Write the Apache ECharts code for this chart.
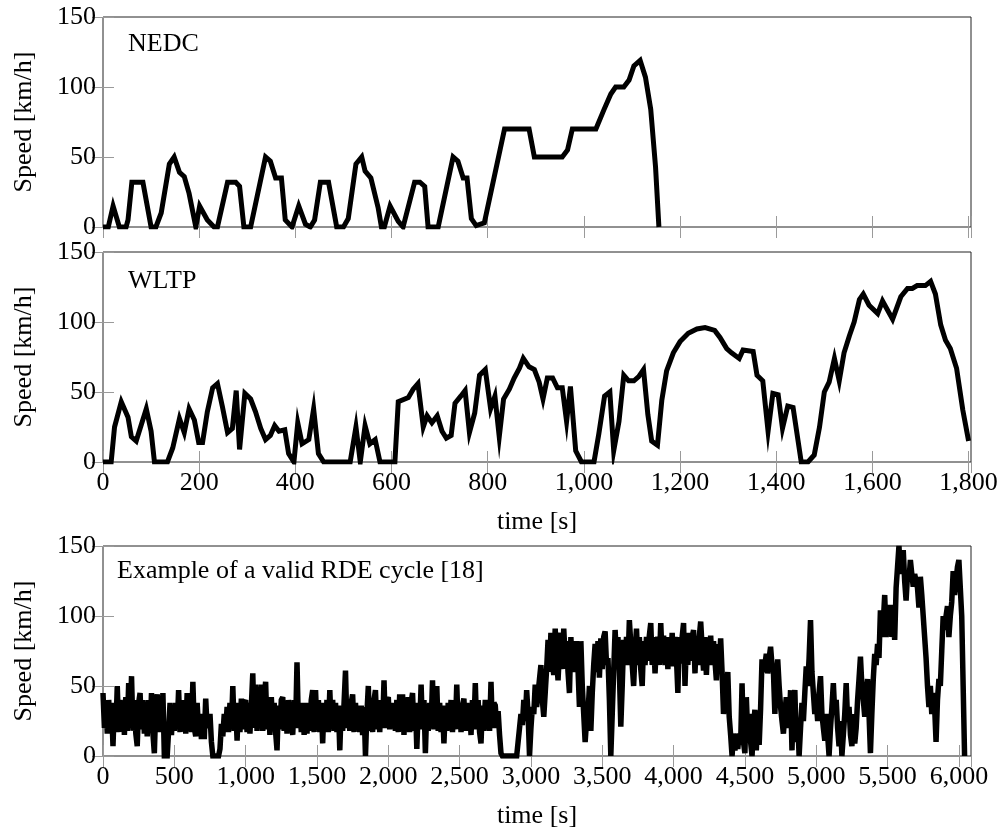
<!DOCTYPE html>
<html><head><meta charset="utf-8">
<script src="https://cdn.jsdelivr.net/npm/echarts@6/dist/echarts.min.js"></script>
<style>html,body{margin:0;padding:0;background:#fff}#c{width:1003px;height:832px}</style>
</head><body><div id="c"></div>
<script>
// ---- data ----
const panelTitles = ['NEDC', 'WLTP', 'Example of a valid RDE cycle [18]'];
const yTicks = [0, 50, 100, 150];
const cycleAxisMax = 1805, cycleAxisStep = 200;
const rdeAxisMax = 6085, rdeAxisStep = 500;

// NEDC: [time s, speed km/h]
const nedc = [[0,0],[11,0],[21,15],[34,0],[48,0],[52,5],[60,32],[83,32],[100,0],[110,0],[121,10],[138,45],[148,50],[159,39],[169,36],[179,24],[193,0],
[201,15],[217,5],[231,0],[238,0],[259,32],[276,32],[284,29],[293,0],[307,0],[338,50],[348,47],[359,35],[371,35],[379,5],[393,0],
[407,15],[421,2],[431,0],[440,5],[452,32],[469,32],[486,0],[500,0],[510,6],[526,45],[538,50],[545,40],[557,35],[572,14],[579,0],
[585,0],[597,15],[614,4],[624,0],[628,0],[648,32],[659,32],[669,29],[676,0],[697,0],[728,50],[738,47],[749,35],[757,35],[766,6],[776,1],[793,3],
[835,70],[886,70],[897,50],[955,50],[966,55],[976,70],[1025,70],[1042,84],[1056,95],[1066,100],[1083,100],[1094,105],[1104,115],[1117,119],[1128,107],[1139,84],[1149,43],[1156,0]];

// WLTP: [time s, speed km/h]
const wltp = [[0,0],[17,0],[24,25],[38,43],[52,32],[59,18],[69,15],[90,38],[100,22],[107,0],[134,0],[145,10],[159,31],[169,21],[179,38],[190,30],[199,14],[207,14],[217,36],[228,53],[238,56],[248,40],[259,21],[269,24],[277,51],[284,9],[295,49],[307,45],[317,36],[328,24],[338,16],[348,19],[357,26],[366,22],[378,23],[386,6],[397,0],[405,28],[414,13],[428,16],[438,38],[448,6],[459,0],[514,0],[526,25],[535,0],[545,26],[555,13],[566,16],[576,0],[607,0],[614,43],[635,46],[645,52],[655,56],[666,25],[674,33],[684,28],[695,33],[705,22],[714,17],[724,19],[732,42],[744,47],[753,51],[762,21],[773,35],[783,62],[795,66],[806,38],[815,47],[824,18],[833,45],[845,52],[855,60],[866,67],[874,74],[886,68],[897,66],[907,57],[915,45],[924,60],[935,60],[945,53],[955,53],[964,29],[972,54],[983,8],[995,0],[1021,0],[1031,20],[1043,47],[1054,50],[1062,8],[1073,29],[1083,62],[1093,58],[1104,58],[1114,61],[1124,66],[1133,34],[1141,15],[1153,12],[1162,44],[1172,65],[1186,78],[1200,86],[1217,92],[1235,95],[1252,96],[1272,94],[1283,89],[1297,81],[1307,78],[1323,74],[1331,80],[1352,79],[1360,62],[1372,58],[1383,22],[1393,49],[1404,48],[1413,24],[1424,40],[1435,39],[1452,0],[1466,0],[1479,5],[1490,25],[1500,50],[1510,57],[1521,74],[1531,58],[1541,78],[1552,90],[1562,100],[1573,116],[1581,120],[1593,112],[1611,106],[1621,115],[1642,102],[1659,118],[1673,124],[1683,124],[1693,126],[1710,126],[1721,129],[1731,120],[1742,98],[1752,87],[1762,81],[1775,67],[1788,37],[1800,15]];

// RDE: speed samples every rdeStep seconds from rdeStart (one row = 100 s)
const rdeStart = 0, rdeStep = 10;
const rdeSpeed = [
45,20,38,16,40,18,36,7,38,18,
50,17,40,20,38,15,42,18,52,20,
57,18,40,16,7,38,45,19,40,16,
38,14,40,18,45,16,2,36,44,17,
40,18,45,0,0,0,18,38,15,36,
18,38,20,47,17,40,19,38,16,45,
20,40,17,53,20,14,38,18,30,12,
28,12,41,20,19,30,10,0,0,0,
0,0,5,23,14,30,18,35,17,38,
20,50,18,36,11,38,17,41,19,38,
40,17,38,16,36,59,20,51,18,40,
20,51,18,40,53,19,40,15,42,20,
38,17,4,36,19,40,42,18,38,16,
40,18,37,15,40,20,67,22,38,17,
38,15,38,16,36,18,40,47,17,47,
19,40,17,38,9,38,19,40,17,47,
20,40,18,38,17,36,4,34,18,38,
61,20,40,18,38,44,17,38,19,36,
17,36,15,35,0,30,50,18,40,17,
40,47,19,38,17,40,20,54,20,40,
42,19,38,20,37,18,40,17,44,19,
44,15,40,18,42,17,38,45,18,38,
5,34,20,51,19,40,2,34,18,38,
20,54,19,40,50,18,38,17,36,9,
34,18,38,20,40,17,37,19,51,20,
38,17,36,41,18,38,19,37,15,40,
20,52,19,40,17,9,36,18,40,19,
38,18,53,20,38,36,20,32,15,2,
0,0,0,0,0,0,0,0,0,0,
0,10,20,30,22,40,25,47,30,0,
20,35,30,51,35,45,55,65,40,28,
45,62,83,60,88,66,58,91,70,54,
75,88,62,91,70,82,60,45,85,62,
80,60,82,62,35,82,50,30,10,25,
30,50,18,45,65,80,60,82,56,84,
62,85,89,65,70,40,0,30,60,90,
70,85,60,21,50,83,65,85,65,97,
80,65,50,75,91,65,85,62,50,82,
65,85,68,86,95,65,85,59,80,85,
65,95,70,86,65,85,62,85,66,88,
64,85,70,45,85,66,85,95,50,82,
65,88,68,85,90,59,85,65,85,96,
78,61,85,58,82,68,86,65,82,83,
54,80,65,84,60,30,50,45,60,28,
15,0,16,4,14,5,16,8,52,10,
2,42,15,30,10,0,20,33,4,30,
8,34,69,60,65,73,59,70,78,65,
60,30,55,69,50,35,25,16,30,42,
30,20,47,4,40,47,10,25,0,20,
38,25,45,64,50,70,97,60,45,30,
40,25,45,57,30,20,11,30,15,0,
20,35,52,30,40,20,7,25,0,15,
30,52,25,35,15,7,30,9,20,40,
55,71,50,40,28,45,55,30,2,30,
55,73,65,80,70,104,85,95,115,85,
100,95,108,85,100,83,120,135,150,130,
140,147,125,111,130,125,140,130,121,130,
125,120,106,128,115,100,85,70,50,35,
50,30,45,35,10,40,55,50,75,100,
90,100,107,85,100,110,132,115,125,135,
140,120,100,50,0];

// ---- chart ----
const FONT = '"Liberation Serif", "Times New Roman", serif';
const chart = echarts.init(document.getElementById('c'), null, {renderer: 'canvas'});
const grids = [
  {left: 103, top: 17, width: 868, height: 210},
  {left: 103, top: 252, width: 868, height: 210},
  {left: 103, top: 546, width: 868, height: 210}
];
const fmt = step => v => (v % step === 0 ? String(v).replace(/\B(?=(\d{3})+(?!\d))/g, ',') : '');
const tick = {inside: true, length: 11, lineStyle: {color: '#9a9a9a', width: 1}};
const xAxis = [], yAxis = [];
grids.forEach((g, i) => {
  const max = i < 2 ? cycleAxisMax : rdeAxisMax;
  const step = i < 2 ? cycleAxisStep : rdeAxisStep;
  const base = {gridIndex: i, type: 'value', min: 0, max: max, interval: step,
    axisLine: {show: false}, splitLine: {show: false}, axisTick: tick};
  xAxis.push(Object.assign({}, base, {position: 'bottom',
    axisLabel: {show: i > 0, formatter: fmt(step), showMaxLabel: false, margin: 8,
      fontFamily: FONT, fontSize: 26, color: '#000'},
    name: i > 0 ? 'time [s]' : '', nameLocation: 'middle', nameGap: 47,
    nameTextStyle: {fontFamily: FONT, fontSize: 26, color: '#000'}}));
  xAxis.push(Object.assign({}, base, {position: 'top', axisLabel: {show: false}}));
  const ybase = {gridIndex: i, type: 'value', min: yTicks[0], max: yTicks[yTicks.length - 1],
    interval: yTicks[1] - yTicks[0], axisLine: {show: false}, splitLine: {show: false}, axisTick: tick};
  yAxis.push(Object.assign({}, ybase, {position: 'left',
    axisLabel: {margin: 7, fontFamily: FONT, fontSize: 26, color: '#000'},
    name: 'Speed [km/h]', nameLocation: 'middle', nameGap: 66,
    nameTextStyle: {fontFamily: FONT, fontSize: 26, color: '#000'}}));
  yAxis.push(Object.assign({}, ybase, {position: 'right', axisLabel: {show: false}}));
});

const lineSeries = (data, i, width, limit) => ({
  type: 'line', xAxisIndex: 2 * i, yAxisIndex: 2 * i, data: data,
  showSymbol: false, symbol: 'none', animation: false, silent: true,
  lineStyle: {color: '#000', width: width, join: 'miter', miterLimit: limit}
});

const rdeData = rdeSpeed.map((v, k) => [rdeStart + k * rdeStep, v]);

const titlePos = [[128, 44], [128, 281], [117, 571]];
chart.setOption({
  animation: false,
  backgroundColor: '#fff',
  grid: grids.map(g => Object.assign({show: true, borderColor: '#222', borderWidth: 1, backgroundColor: 'transparent'}, g)),
  xAxis: xAxis,
  yAxis: yAxis,
  series: [lineSeries(nedc, 0, 5, 10), lineSeries(wltp, 1, 5, 10), lineSeries(rdeData, 2, 5.5, 3)],
  graphic: panelTitles.map((t, i) => ({
    type: 'text', x: titlePos[i][0], y: titlePos[i][1], z: 100,
    style: {text: t, font: '26px ' + FONT, fill: '#000', align: 'left', verticalAlign: 'middle'}
  }))
});
</script></body></html>
